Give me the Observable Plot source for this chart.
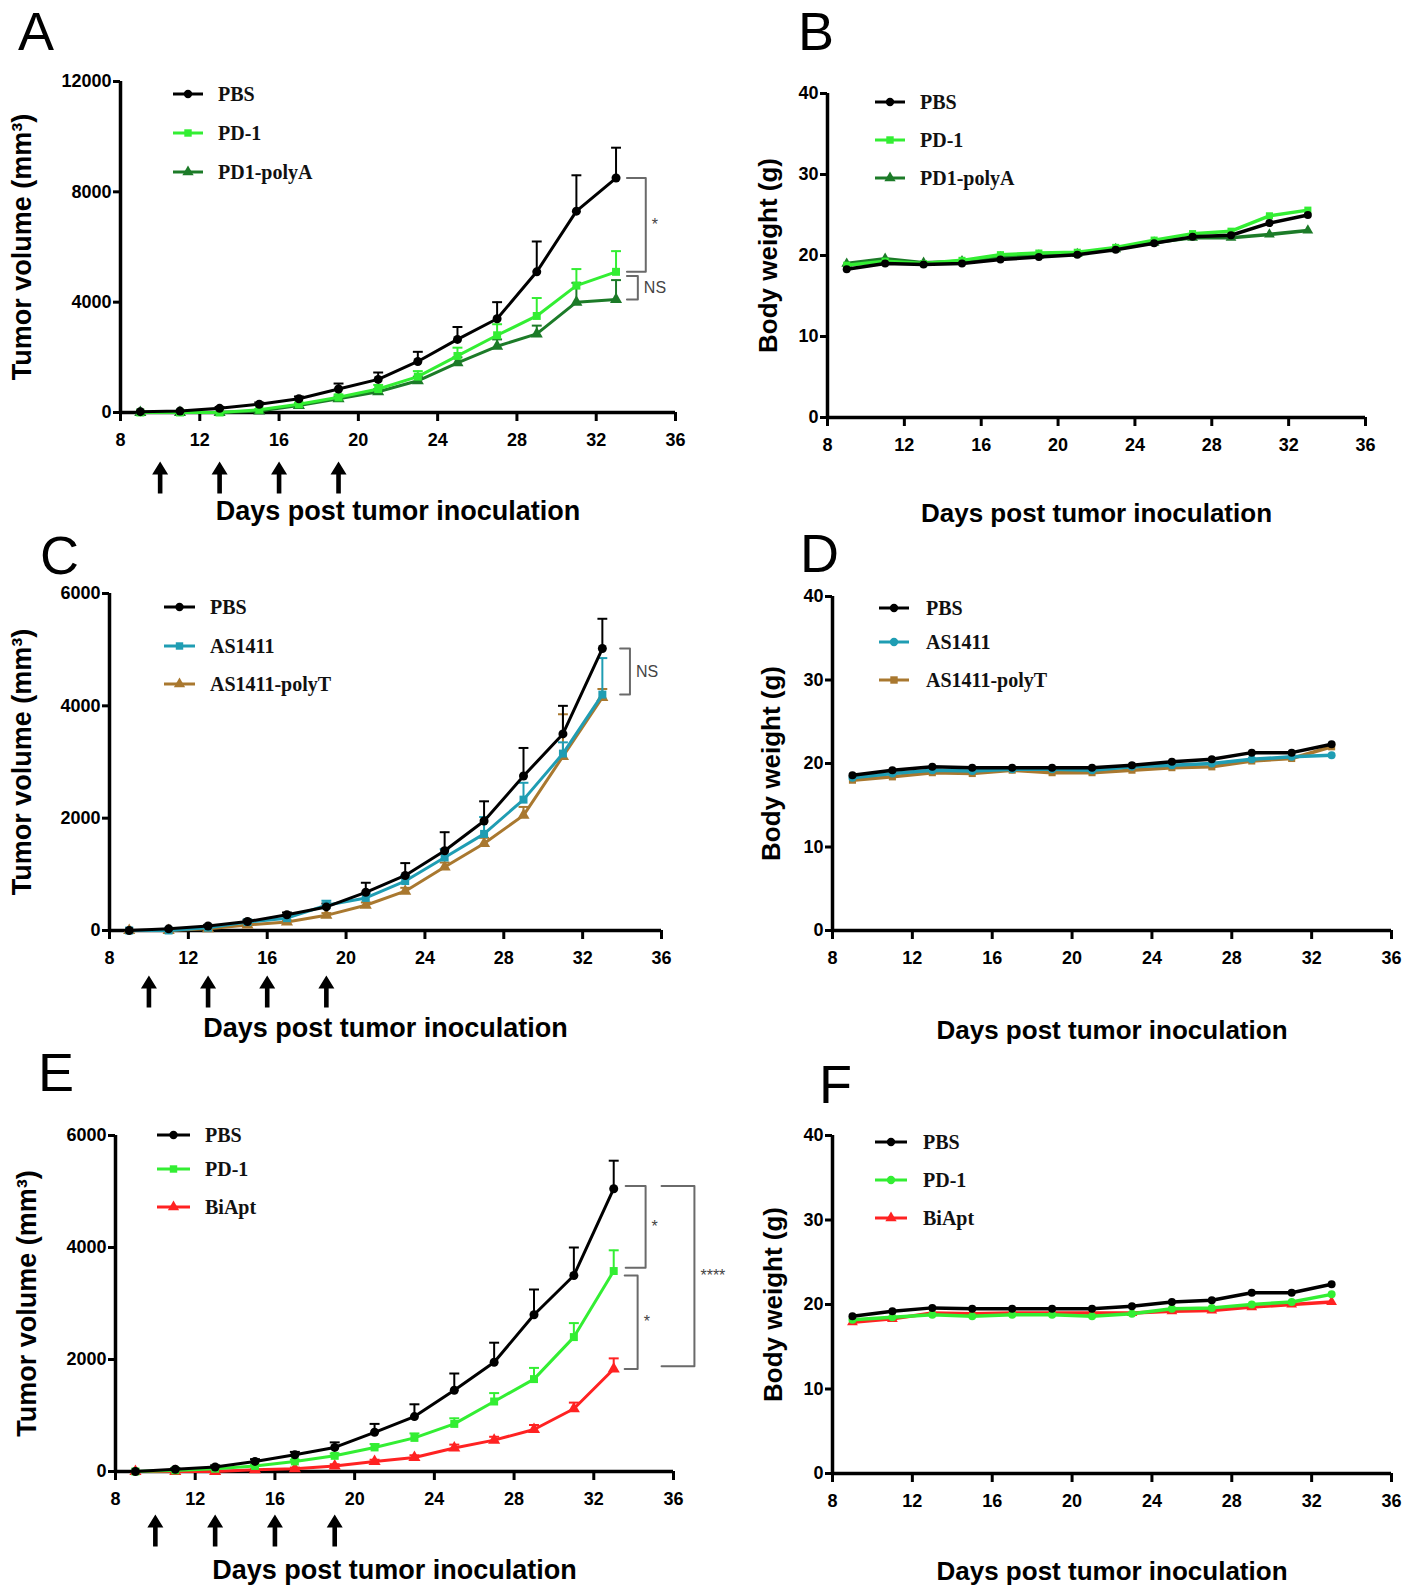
<!DOCTYPE html>
<html><head><meta charset="utf-8">
<script src="https://cdn.jsdelivr.net/npm/d3@7"></script>
<script src="https://cdn.jsdelivr.net/npm/@observablehq/plot@0.6"></script>
<style>
body{margin:0;background:#fff;}
#fig{position:relative;width:1419px;height:1592px;background:#fff;overflow:hidden;font-family:"Liberation Sans",Arial,sans-serif;}
.panel{position:absolute;}
.letter{position:absolute;font-size:54px;line-height:40px;font-family:"Liberation Sans",Arial,sans-serif;color:#000;}
.legtxt{position:absolute;font-family:"Liberation Serif","Times New Roman",serif;font-weight:bold;font-size:20px;line-height:24px;color:#111;white-space:nowrap;}
.legsym{position:absolute;}
</style></head><body><div id="fig"></div>
<script>
// ---------- data ----------
const days = [9, 11, 13, 15, 17, 19, 21, 23, 25, 27, 29, 31, 33];
const treatmentDays = [10, 13, 16, 19];
const xTicks = [8, 12, 16, 20, 24, 28, 32, 36];
const tumorTicksA = [0, 4000, 8000, 12000];
const tumorTicksCE = [0, 2000, 4000, 6000];
const weightTicks = [0, 10, 20, 30, 40];

// Panel A – tumor volume (mm3)
const aPBS      = [30, 50, 150, 300, 500, 850, 1200, 1850, 2650, 3400, 5100, 7300, 8500];
const aPBSerr   = [0, 0, 50, 60, 80, 200, 250, 350, 450, 600, 1100, 1300, 1100];
const aPD1      = [0, 0, 0, 100, 300, 550, 850, 1300, 2050, 2800, 3500, 4600, 5100];
const aPD1err   = [0, 0, 0, 30, 60, 100, 150, 200, 300, 400, 650, 600, 750];
const aPolyA    = [0, 0, 0, 50, 250, 500, 750, 1150, 1800, 2400, 2850, 4000, 4100];
const aPolyAerr = [0, 0, 0, 20, 50, 80, 100, 150, 200, 250, 300, 700, 700];
// Panel B – body weight (g)
const bPBS   = [18.3, 19.0, 18.9, 19.0, 19.5, 19.8, 20.1, 20.7, 21.5, 22.3, 22.5, 24.0, 25.0];
const bPD1   = [18.8, 19.3, 19.0, 19.4, 20.1, 20.3, 20.4, 21.0, 21.9, 22.7, 23.0, 24.9, 25.6];
const bPolyA = [19.0, 19.6, 19.1, 19.3, 19.8, 20.0, 20.2, 20.8, 21.6, 22.2, 22.2, 22.6, 23.1];
// Panel C – tumor volume
const cPBS      = [0, 30, 80, 160, 280, 420, 680, 980, 1420, 1950, 2750, 3500, 5020];
const cPBSerr   = [0, 0, 20, 30, 40, 60, 170, 220, 330, 350, 500, 500, 530];
const cAS       = [0, 0, 50, 150, 220, 450, 580, 880, 1300, 1720, 2330, 3150, 4200];
const cASerr    = [0, 0, 10, 20, 30, 80, 80, 100, 150, 300, 300, 200, 650];
const cPolyT    = [0, 0, 30, 100, 150, 270, 450, 700, 1130, 1550, 2050, 3100, 4150];
const cPolyTerr = [0, 0, 10, 20, 30, 40, 50, 60, 80, 100, 150, 750, 150];
// Panel D – body weight
const dPBS   = [18.6, 19.2, 19.6, 19.5, 19.5, 19.5, 19.5, 19.8, 20.2, 20.5, 21.3, 21.3, 22.3];
const dAS    = [18.3, 18.8, 19.2, 19.1, 19.3, 19.3, 19.2, 19.6, 19.8, 20.0, 20.5, 20.8, 21.0];
const dPolyT = [18.0, 18.4, 18.9, 18.8, 19.2, 18.9, 18.9, 19.2, 19.5, 19.6, 20.3, 20.6, 22.0];
// Panel E – tumor volume
const ePBS      = [0, 40, 80, 180, 300, 430, 700, 980, 1450, 1950, 2800, 3500, 5050];
const ePBSerr   = [0, 20, 30, 40, 50, 90, 150, 220, 300, 350, 450, 500, 500];
const ePD1      = [0, 20, 50, 100, 180, 280, 430, 600, 850, 1250, 1650, 2400, 3580];
const ePD1err   = [0, 10, 20, 20, 30, 40, 60, 80, 100, 150, 200, 250, 370];
const eBiApt    = [0, 0, 0, 30, 50, 100, 180, 250, 420, 560, 750, 1120, 1830];
const eBiApterr = [0, 0, 0, 10, 20, 30, 30, 40, 60, 60, 80, 110, 190];
// Panel F – body weight
const fPBS   = [18.6, 19.2, 19.6, 19.5, 19.5, 19.5, 19.5, 19.8, 20.3, 20.5, 21.4, 21.4, 22.4];
const fPD1   = [18.2, 18.5, 18.8, 18.6, 18.8, 18.8, 18.6, 18.9, 19.5, 19.6, 20.0, 20.3, 21.2];
const fBiApt = [17.9, 18.3, 19.0, 18.9, 19.0, 19.0, 19.0, 19.0, 19.2, 19.3, 19.7, 20.0, 20.3];

const xTitle = "Days post tumor inoculation";
const yTumor = "Tumor volume (mm³)";
const yWeight = "Body weight (g)";

// ---------- styles ----------
const C = {pbs: "#000000", pd1: "#33ee33", polyA: "#1c7b28", as: "#1f9db3", polyT: "#a9782f", biapt: "#ff2222"};
const fig = document.getElementById("fig");

const arrowSymbol = {draw(ctx) {
  const h = 16;
  ctx.moveTo(0, -h); ctx.lineTo(8, -h + 13); ctx.lineTo(2.3, -h + 13); ctx.lineTo(2.3, h);
  ctx.lineTo(-2.3, h); ctx.lineTo(-2.3, -h + 13); ctx.lineTo(-8, -h + 13); ctx.closePath();
}};

function rowsOf(vals, errs) {
  return days.map((d, i) => ({day: d, v: vals[i], e: errs ? errs[i] : 0}));
}

function buildPanel(cfg) {
  const {L, T, axisL, axisR, axisT, axisB, ymax, yticks, series, ylabel, ytDx, xtDy, arrowDy, brackets, mr, mb, r, lw} = cfg;
  const width = axisR - L + mr, height = axisB - T + mb;
  const marks = [];
  marks.push(Plot.axisX({ticks: xTicks, tickSize: 9, tickPadding: 12, strokeWidth: 3, tickFormat: d => String(d), label: null}));
  marks.push(Plot.axisY({ticks: yticks, tickSize: 7, tickPadding: 2, strokeWidth: 3, tickFormat: d => String(d), label: null}));
  marks.push(Plot.ruleY([0], {x1: 8, x2: 36, strokeWidth: 3.5}));
  marks.push(Plot.ruleX([8], {y1: 0, y2: ymax, strokeWidth: 3.5}));
  const ordered = [...series].reverse();
  for (const s of ordered) {
    const rows = rowsOf(s.values, s.errors);
    if (s.errors) {
      const er = rows.filter(d => d.e > 0);
      marks.push(Plot.ruleX(er, {x: "day", y1: "v", y2: d => d.v + d.e, stroke: s.color, strokeWidth: 2}));
      marks.push(Plot.link(er, {x1: d => d.day - 0.25, x2: d => d.day + 0.25, y1: d => d.v + d.e, y2: d => d.v + d.e, stroke: s.color, strokeWidth: 2}));
    }
  }
  for (const s of ordered) {
    const rows = rowsOf(s.values, s.errors);
    marks.push(Plot.line(rows, {x: "day", y: "v", stroke: s.color, strokeWidth: lw}));
    marks.push(Plot.dot(rows, {x: "day", y: "v", symbol: s.symbol, fill: s.color, r}));
  }
  if (arrowDy) {
    marks.push(Plot.dot(treatmentDays, {x: d => d, y: () => 0, symbol: arrowSymbol, fill: "#000", dy: arrowDy}));
  }
  if (brackets) {
    for (const b of brackets) {
      const pts = [{x: b.x1, y: b.from}, {x: b.x2, y: b.from}, {x: b.x2, y: b.to}, {x: b.x1, y: b.to}];
      marks.push(Plot.line(pts, {x: "x", y: "y", stroke: "#6a6a6a", strokeWidth: 2}));
    }
    marks.push(Plot.text(brackets, {x: "x2", y: d => (d.from + d.to) / 2, text: "label", textAnchor: "start", fontSize: 16, fontWeight: "normal", fill: "#444", dx: 6}));
  }
  marks.push(Plot.text([xTitle], {text: d => d, frameAnchor: "bottom", textAnchor: "middle", lineAnchor: "middle", dy: xtDy, fontSize: cfg.xtSize, fontWeight: "bold"}));
  marks.push(Plot.text([ylabel], {text: d => d, frameAnchor: "left", textAnchor: "middle", lineAnchor: "middle", rotate: -90, dx: ytDx, fontSize: cfg.ytSize, fontWeight: "bold"}));

  const svg = Plot.plot({
    width, height,
    marginLeft: axisL - L, marginRight: mr, marginTop: axisT - T, marginBottom: mb,
    x: {domain: [8, 36]},
    y: {domain: [0, ymax]},
    style: {fontFamily: "'Liberation Sans', Arial, sans-serif", fontSize: "18px", fontWeight: "bold", color: "#000", background: "transparent", overflow: "visible"},
    marks
  });
  const div = document.createElement("div");
  div.className = "panel";
  div.style.left = L + "px"; div.style.top = T + "px";
  div.appendChild(svg);
  fig.appendChild(div);

  // legend
  const lg = cfg.legend;
  series.forEach((s, i) => {
    const y = lg.rows[i];
    const sv = d3.create("svg").attr("class", "legsym").attr("width", lg.lineW).attr("height", 16)
      .style("left", lg.x + "px").style("top", (y - 8) + "px");
    sv.append("line").attr("x1", 0).attr("x2", lg.lineW).attr("y1", 8).attr("y2", 8).attr("stroke", s.color).attr("stroke-width", 3);
    sv.append("path").attr("transform", `translate(${lg.lineW / 2},8)`)
      .attr("d", d3.symbol(s.symbol === "square" ? d3.symbolSquare : s.symbol === "triangle" ? d3.symbolTriangle : d3.symbolCircle, 55)())
      .attr("fill", s.color);
    fig.appendChild(sv.node());
    const t = document.createElement("div");
    t.className = "legtxt";
    t.textContent = s.name;
    t.style.left = lg.tx + "px"; t.style.top = (y - 12) + "px";
    fig.appendChild(t);
  });
}

function letter(ch, x, y) {
  const d = document.createElement("div");
  d.className = "letter"; d.textContent = ch;
  d.style.left = x + "px"; d.style.top = y + "px";
  fig.appendChild(d);
}

// Panel A
buildPanel({L: 0, T: 0, axisL: 120, axisR: 675, axisT: 81, axisB: 412, ymax: 12000, yticks: tumorTicksA,
  mr: 80, mb: 120, r: 4.5, lw: 3, ylabel: yTumor, ytDx: -98, ytSize: 27, xtDy: 99, xtSize: 27, arrowDy: 65,
  series: [
    {name: "PBS", values: aPBS, errors: aPBSerr, color: C.pbs, symbol: "circle"},
    {name: "PD-1", values: aPD1, errors: aPD1err, color: C.pd1, symbol: "square"},
    {name: "PD1-polyA", values: aPolyA, errors: aPolyAerr, color: C.polyA, symbol: "triangle"}],
  brackets: [
    {from: aPBS.at(-1), to: aPD1.at(-1), x1: 33.55, x2: 34.5, label: "*"},
    {from: aPD1.at(-1) - 150, to: aPolyA.at(-1), x1: 33.55, x2: 34.1, label: "NS"}],
  legend: {x: 173, lineW: 30, tx: 218, rows: [94, 133, 172]}});

// Panel B
buildPanel({L: 710, T: 0, axisL: 827, axisR: 1365, axisT: 93, axisB: 417, ymax: 40, yticks: weightTicks,
  mr: 50, mb: 120, r: 4, lw: 3.5, ylabel: yWeight, ytDx: -59, ytSize: 26, xtDy: 96, xtSize: 26,
  series: [
    {name: "PBS", values: bPBS, color: C.pbs, symbol: "circle"},
    {name: "PD-1", values: bPD1, color: C.pd1, symbol: "square"},
    {name: "PD1-polyA", values: bPolyA, color: C.polyA, symbol: "triangle"}],
  legend: {x: 875, lineW: 30, tx: 920, rows: [102, 140, 178]}});

// Panel C
buildPanel({L: 0, T: 530, axisL: 109, axisR: 661, axisT: 593, axisB: 930, ymax: 6000, yticks: tumorTicksCE,
  mr: 80, mb: 120, r: 4.5, lw: 3, ylabel: yTumor, ytDx: -87, ytSize: 27, xtDy: 98, xtSize: 27, arrowDy: 61,
  series: [
    {name: "PBS", values: cPBS, errors: cPBSerr, color: C.pbs, symbol: "circle"},
    {name: "AS1411", values: cAS, errors: cASerr, color: C.as, symbol: "square"},
    {name: "AS1411-polyT", values: cPolyT, errors: cPolyTerr, color: C.polyT, symbol: "triangle"}],
  brackets: [
    {from: cPBS.at(-1), to: cAS.at(-1), x1: 33.9, x2: 34.4, label: "NS"}],
  legend: {x: 164, lineW: 31, tx: 210, rows: [607, 646, 684]}});

// Panel D
buildPanel({L: 710, T: 530, axisL: 832, axisR: 1391, axisT: 596, axisB: 930, ymax: 40, yticks: weightTicks,
  mr: 28, mb: 120, r: 4, lw: 3.5, ylabel: yWeight, ytDx: -61, ytSize: 26, xtDy: 100, xtSize: 26,
  series: [
    {name: "PBS", values: dPBS, color: C.pbs, symbol: "circle"},
    {name: "AS1411", values: dAS, color: C.as, symbol: "circle"},
    {name: "AS1411-polyT", values: dPolyT, color: C.polyT, symbol: "square"}],
  legend: {x: 879, lineW: 30, tx: 926, rows: [608, 642, 680]}});

// Panel E
buildPanel({L: 0, T: 1050, axisL: 115, axisR: 673, axisT: 1135, axisB: 1471, ymax: 6000, yticks: tumorTicksCE,
  mr: 80, mb: 120, r: 4.5, lw: 3, ylabel: yTumor, ytDx: -88, ytSize: 27, xtDy: 99, xtSize: 27, arrowDy: 59,
  series: [
    {name: "PBS", values: ePBS, errors: ePBSerr, color: C.pbs, symbol: "circle"},
    {name: "PD-1", values: ePD1, errors: ePD1err, color: C.pd1, symbol: "square"},
    {name: "BiApt", values: eBiApt, errors: eBiApterr, color: C.biapt, symbol: "triangle"}],
  brackets: [
    {from: ePBS.at(-1) + 50, to: ePD1.at(-1) + 60, x1: 33.6, x2: 34.6, label: "*"},
    {from: ePD1.at(-1) - 80, to: eBiApt.at(-1), x1: 33.55, x2: 34.2, label: "*"},
    {from: ePBS.at(-1) + 50, to: eBiApt.at(-1) + 50, x1: 35.4, x2: 37.05, label: "****"}],
  legend: {x: 157, lineW: 33, tx: 205, rows: [1135, 1169, 1207]}});

// Panel F
buildPanel({L: 710, T: 1050, axisL: 832, axisR: 1391, axisT: 1135, axisB: 1473, ymax: 40, yticks: weightTicks,
  mr: 28, mb: 115, r: 4, lw: 3.5, ylabel: yWeight, ytDx: -59, ytSize: 26, xtDy: 98, xtSize: 26,
  series: [
    {name: "PBS", values: fPBS, color: C.pbs, symbol: "circle"},
    {name: "PD-1", values: fPD1, color: C.pd1, symbol: "circle"},
    {name: "BiApt", values: fBiApt, color: C.biapt, symbol: "triangle"}],
  legend: {x: 875, lineW: 32, tx: 923, rows: [1142, 1180, 1218]}});

letter("A", 18, 11);
letter("B", 798, 11);
letter("C", 40, 535);
letter("D", 800, 533);
letter("E", 38, 1052);
letter("F", 819, 1064);
</script></body></html>
